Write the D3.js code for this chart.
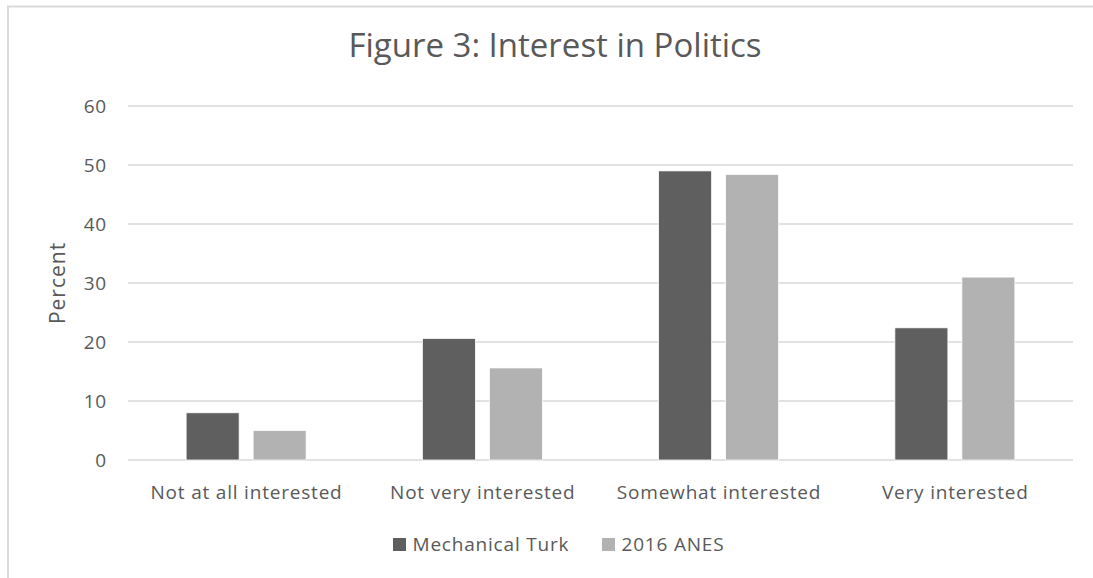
<!DOCTYPE html>
<html>
<head>
<meta charset="utf-8">
<script src="https://cdn.jsdelivr.net/npm/d3@7"></script>
<style>
  html, body { margin: 0; padding: 0; background: #fff; }
  svg { display: block; font-family: "Open Sans", sans-serif; }
</style>
</head>
<body>
<script>
const categories = ["Not at all interested", "Not very interested", "Somewhat interested", "Very interested"];
const seriesNames = ["Mechanical Turk", "2016 ANES"];
const mturkValues = [8.0, 20.6, 49.0, 22.4];
const anesValues = [5.0, 15.6, 48.4, 31.0];
const yTicks = [0, 10, 20, 30, 40, 50, 60];
const colors = ["#5f5f5f", "#b2b2b2"];

const W = 1093, H = 578;
const plot = { left: 128, right: 1073, top: 106, bottom: 460 };
const textColor = "#595959";
const ls = "0.8px";
const fs = 19;

const svg = d3.select("body").append("svg").attr("width", W).attr("height", H);

// chart border
svg.append("rect").attr("x", 8).attr("y", 6.5).attr("width", 1100).attr("height", 600)
  .attr("fill", "none").attr("stroke", "#d9d9d9").attr("stroke-width", 2);

const x0 = d3.scaleBand().domain(categories).range([plot.left, plot.right]).paddingInner(0).paddingOuter(0);
const y = d3.scaleLinear().domain([0, 60]).range([plot.bottom, plot.top]);

// gridlines
svg.append("g").selectAll("line").data(yTicks).join("line")
  .attr("x1", plot.left).attr("x2", plot.right)
  .attr("y1", d => y(d)).attr("y2", d => y(d))
  .attr("stroke", "#d9d9d9").attr("stroke-width", 1.5);

// y tick labels
svg.append("g").selectAll("text").data(yTicks).join("text")
  .attr("x", 107).attr("y", d => y(d) + 6.6)
  .attr("text-anchor", "end").attr("fill", textColor).attr("font-size", fs)
  .style("letter-spacing", ls)
  .text(d => d);

// y axis title
svg.append("text").attr("transform", `translate(65,283) rotate(-90)`)
  .attr("text-anchor", "middle").attr("fill", textColor).attr("font-size", 21)
  .style("letter-spacing", "1px")
  .text("Percent");

// bars
const data = categories.map((c, i) => ({ cat: c, vals: [mturkValues[i], anesValues[i]] }));
const barW = 53, gap = 14;
const groups = svg.append("g").selectAll("g").data(data).join("g")
  .attr("transform", d => `translate(${x0(d.cat) + x0.bandwidth() / 2},0)`);
groups.selectAll("rect").data(d => d.vals.map((v, j) => ({ v, j }))).join("rect")
  .attr("x", d => d.j === 0 ? -gap / 2 - barW : gap / 2)
  .attr("width", barW)
  .attr("y", d => y(d.v))
  .attr("height", d => y(0) - y(d.v))
  .attr("fill", d => colors[d.j])
  .attr("stroke", "#ffffff").attr("stroke-width", 0.75);

// category labels
svg.append("g").selectAll("text").data(categories).join("text")
  .attr("x", d => x0(d) + x0.bandwidth() / 2 + 0.4).attr("y", 498.5)
  .attr("text-anchor", "middle").attr("fill", textColor).attr("font-size", fs)
  .style("letter-spacing", ls)
  .text(d => d);

// title
svg.append("text").attr("x", 555).attr("y", 57)
  .attr("text-anchor", "middle").attr("fill", textColor).attr("font-size", 33)
  .text("Figure 3: Interest in Politics");

// legend
const legendX = [393, 602];
const lg = svg.append("g").selectAll("g").data(seriesNames).join("g")
  .attr("transform", (d, i) => `translate(${legendX[i]},538)`);
lg.append("rect").attr("width", 13).attr("height", 13).attr("fill", (d, i) => colors[i]);
lg.append("text").attr("x", 19.5).attr("y", 13).attr("fill", textColor).attr("font-size", fs)
  .style("letter-spacing", ls)
  .text(d => d);
</script>
</body>
</html>
